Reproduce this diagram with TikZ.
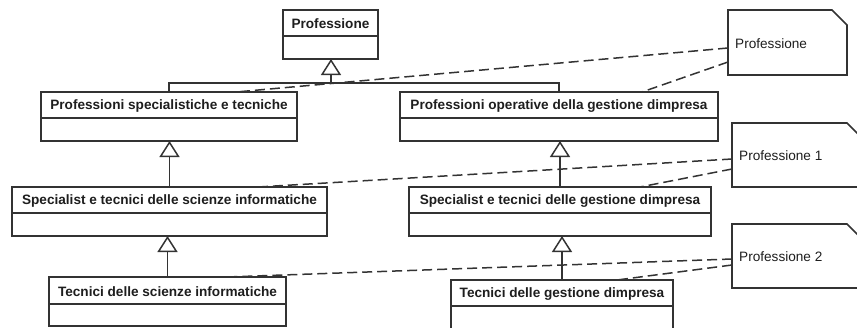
\documentclass[tikz,border=0pt]{standalone}
\usepackage{fontspec}
\setmainfont{Liberation Sans}
\usetikzlibrary{arrows.meta,calc}

\definecolor{ink}{HTML}{1E1E1E}
\definecolor{edge}{HTML}{333333}

\tikzset{
  classbox/.style={draw=edge, line width=1.6pt, fill=white, inner sep=0pt, outer sep=0pt, rectangle},
  titletext/.style={inner sep=0pt, text=ink, font=\fontsize{13.6}{15}\selectfont\bfseries},
  notetext/.style={inner sep=0pt, anchor=west, text=ink, font=\fontsize{13.6}{15}\selectfont},
  divider/.style={draw=edge, line width=1.6pt},
  notebody/.style={inner sep=0pt, outer sep=0pt, rectangle},
  noteline/.style={draw=edge, line width=1.6pt, fill=white, line join=miter},
  inherit/.style={draw=edge, line width=1.5pt, -{Triangle[open, length=16pt, width=20pt, line width=1.5pt]}},
  gen/.style={draw=edge, line width=1.5pt},
  anchorline/.style={draw=edge, line width=1.5pt, dash pattern=on 10pt off 5pt},
}

% class box: name, left, top, right, bottom, divider y, title
\newcommand{\umlclass}[7]{%
  \node[classbox, minimum width={#4-#2}, minimum height={#5-#3}] (#1) at ({(#2+#4)/2},{(#3+#5)/2}) {};
  \node[titletext] (#1-t) at ({(#2+#4)/2},{(#3+#6)/2+1}) {#7};
  \draw[divider] (#2,#6) -- (#4,#6);
}

% note with folded corner: name, left, top, right, bottom, text
\newcommand{\umlnote}[6]{%
  \node[notebody, minimum width={#4-#2}, minimum height={#5-#3}] (#1) at ({(#2+#4)/2},{(#3+#5)/2}) {};
  \draw[noteline] (#1.north west) -- ([xshift=-15pt]#1.north east) -- ([yshift=-15pt]#1.north east)
    -- (#1.south east) -- (#1.south west) -- cycle;
  \node[notetext] (#1-t) at ([xshift=7pt,yshift=-1pt]#1.west) {#6};
}

\begin{document}
\begin{tikzpicture}[x=1pt, y=-1pt]
  \useasboundingbox (0,0) rectangle (857,327);
  \clip (0,0) rectangle (857,327);

  % classes
  \umlclass{prof}{283}{10}{378}{59}{36}{Professione}
  \umlclass{spec}{41}{92}{297}{141}{118}{Professioni specialistiche e tecniche}
  \umlclass{oper}{400}{92}{718}{141}{118}{Professioni operative della gestione dimpresa}
  \umlclass{sinf}{12}{187}{327}{236}{213}{Specialist e tecnici delle scienze informatiche}
  \umlclass{sges}{409}{187}{711}{236}{213}{Specialist e tecnici delle gestione dimpresa}
  \umlclass{tinf}{49}{277}{286}{326}{304}{Tecnici delle scienze informatiche}
  \umlclass{tges}{451}{280}{673}{340}{306}{Tecnici delle gestione dimpresa}

  % notes
  \umlnote{n0}{728}{10}{847}{75}{Professione}
  \umlnote{n1}{732}{123}{862}{187}{Professione 1}
  \umlnote{n2}{732}{224}{862}{288}{Professione 2}

  % generalisation
  \coordinate (join) at (331,83);
  \draw[gen] (spec.north) |- (join);
  \draw[gen] (oper.north) |- (join);
  \draw[inherit] (join) -- (join |- prof.south);
  \draw[inherit] (sinf.north) -- (sinf.north |- spec.south);
  \draw[inherit] (sges.north) -- (sges.north |- oper.south);
  \draw[inherit] (tinf.north) -- (tinf.north |- sinf.south);
  \draw[inherit] (tges.north) -- (tges.north |- sges.south);

  % note anchors
  \draw[anchorline] ([yshift=-38pt]n0.north west) -- ([xshift=195pt]spec.north west);
  \draw[anchorline] ([yshift=-52pt]n0.north west) -- ([xshift=242pt]oper.north west);
  \draw[anchorline] ([yshift=-36pt]n1.north west) -- ([xshift=246pt]sinf.north west);
  \draw[anchorline] ([yshift=-46pt]n1.north west) -- ([xshift=231pt]sges.north west);
  \draw[anchorline] ([yshift=-35pt]n2.north west) -- ([xshift=178pt]tinf.north west);
  \draw[anchorline] ([yshift=-41pt]n2.north west) -- ([xshift=166pt]tges.north west);
\end{tikzpicture}
\end{document}
